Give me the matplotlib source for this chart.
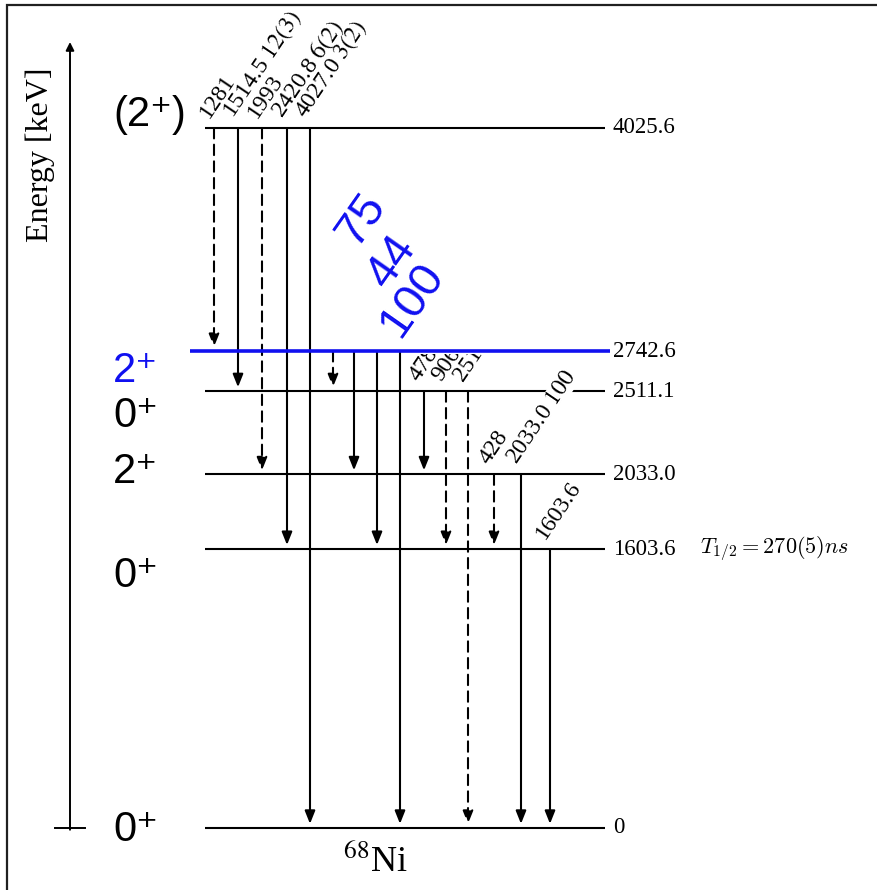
"""Level scheme of 68Ni: levels, gamma transitions and intensities."""

import matplotlib
matplotlib.use("Agg")
import matplotlib.pyplot as plt
from matplotlib.patches import Rectangle

# level energies [keV] and spin/parity labels
LEVELS = [0.0, 1603.6, 2033.0, 2511.1, 2742.6, 4025.6]
LEVEL_TEXT = ["0", "1603.6", "2033.0", "2511.1", "2742.6", "4025.6"]
SPINS = ["0⁺", "0⁺", "2⁺", "0⁺", "2⁺", "(2⁺)"]
HIGHLIGHT_LEVEL = 2742.6

# gamma transitions: initial level, final level, energy label, intensity, dashed
T_FROM = [4025.6, 4025.6, 4025.6, 4025.6, 4025.6,
          2742.6, 2742.6, 2742.6, 2742.6,
          2511.1, 2511.1, 2511.1,
          2033.0, 2033.0,
          1603.6]
T_TO = [2742.6, 2511.1, 2033.0, 1603.6, 0.0,
        2511.1, 2033.0, 1603.6, 0.0,
        2033.0, 1603.6, 0.0,
        1603.6, 0.0,
        0.0]
T_LABEL = ["1281", "1514.5", "1993", "2420.8", "4027.0",
           "", "", "", "",
           "478.1", "906", "2511.1",
           "428", "2033.0",
           "1603.6"]
T_INT = ["", "12(3)", "", "6(2)", "3(2)",
         "", "", "", "",
         "", "", "",
         "", "100",
         ""]
T_DASHED = [True, False, True, False, False,
            True, False, False, False,
            False, True, True,
            True, False,
            False]

# intensities of the 2742.6 keV level decay
BLUE_INT = ["75", "44", "100"]
HALF_LIFE = r"$T_{1/2} = 270(5)ns$"
NUCLEUS = r"$^{68}$Ni"

# layout (x in pixels of the 878 px wide canvas)
T_X = [214, 238, 262, 287, 310, 333, 354, 377, 400, 424, 446, 468, 494, 521, 550]
BLUE_XY = [(362, 3500), (392, 3260), (412, 3040)]
SPIN_DY = [-1.5, -19, 2, -18, -14, 9]  # points, label offset from level line
LX0, LX1 = 205, 605

SERIF = "Liberation Serif"
SANS = ["Liberation Sans", "DejaVu Sans"]
BLUE = "#1010f0"

fig = plt.figure(figsize=(8.78, 8.90), dpi=100)
ax = fig.add_axes([0, 0, 1, 1])
ax.set_xlim(0, 878)
ax.set_ylim(-356.6, 4761.7)
ax.axis("off")

# frame round the whole drawing
fig.patches.append(Rectangle((7 / 878, -0.1), 1.2, 1.1 - 5 / 890, transform=fig.transFigure,
                             fill=False, lw=1.6, ec="#202020"))

# energy axis
ax.annotate("", xy=(70, 1 - 42 / 890), xycoords=("data", "axes fraction"),
            xytext=(70, -10), textcoords="data",
            arrowprops=dict(arrowstyle="-|>", lw=1.4, color="black",
                            mutation_scale=12, shrinkA=0, shrinkB=0))
ax.plot([55, 85], [0, 0], color="black", lw=1.4)
ax.text(40, 3870, "Energy [keV]", rotation=90, ha="center", va="center",
        family=SERIF, fontsize=23)

# levels
for e, txt, spin, dy in zip(LEVELS, LEVEL_TEXT, SPINS, SPIN_DY):
    hl = e == HIGHLIGHT_LEVEL
    col = BLUE if hl else "black"
    if hl:
        ax.plot([190, 610], [e, e], color=BLUE, lw=2.6, zorder=4, solid_capstyle="butt")
    else:
        ax.plot([LX0, LX1], [e, e], color="black", lw=1.5, zorder=2, solid_capstyle="butt")
    ax.text(613, e, txt, ha="left", va="center", family=SERIF, fontsize=16.5)
    ax.annotate(spin, xy=(113, e), xytext=(0, dy), textcoords="offset points",
                ha="left", va="center", family=SANS, fontsize=30, color=col)

ax.text(700, 1603.6, HALF_LIFE, ha="left", va="center", fontsize=16, math_fontfamily="cm")

# clip for labels that run under the highlighted level
clip = Rectangle((0, -500), 878, HIGHLIGHT_LEVEL - 15 + 500, transform=ax.transData)

for x, e0, e1, lab, inten, dashed in zip(T_X, T_FROM, T_TO, T_LABEL, T_INT, T_DASHED):
    ls = (0, (5, 3)) if dashed else "-"
    ax.annotate("", xy=(x, e1), xytext=(x, e0),
                arrowprops=dict(arrowstyle="-|>,head_length=0.55,head_width=0.22",
                                lw=1.5, color="black", linestyle=ls,
                                shrinkA=0, shrinkB=3, mutation_scale=14),
                zorder=3)
    if not lab:
        continue
    s = lab if not inten else lab + r" $\mathit{" + inten + "}$"
    t = ax.annotate(s, xy=(x, e0), xytext=(-3.6, 6.8), textcoords="offset points",
                    rotation=56, rotation_mode="anchor", ha="left", va="baseline",
                    family=SERIF, fontsize=17, math_fontfamily="stix", zorder=5)
    if e0 == 2511.1:
        t.set_clip_path(clip)
    if lab == "2033.0":
        t.set_bbox(dict(fc="white", ec="none", pad=0.5))

for (bx, by), s in zip(BLUE_XY, BLUE_INT):
    ax.text(bx, by, s, rotation=55, rotation_mode="anchor", ha="center", va="center",
            family=SANS, fontsize=34, color=BLUE, zorder=6)

ax.text(375, -195, NUCLEUS, ha="center", va="center", family=SERIF, fontsize=26,
        math_fontfamily="stix")

fig.savefig("out.png", dpi=100)
